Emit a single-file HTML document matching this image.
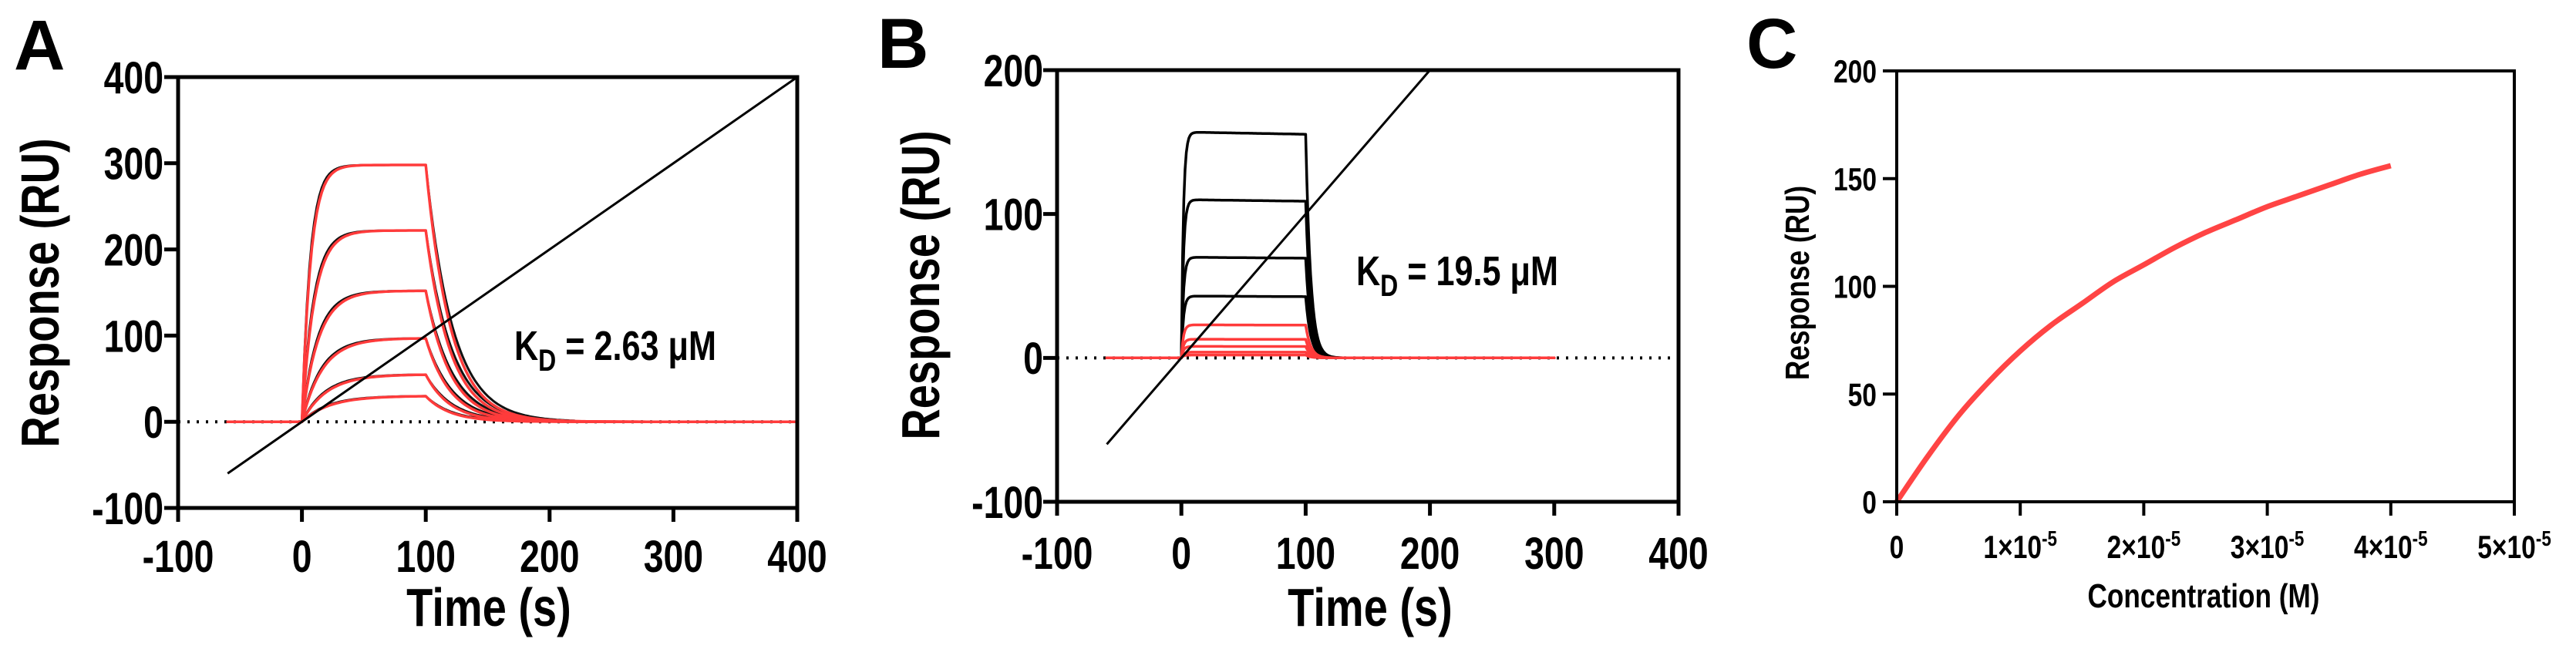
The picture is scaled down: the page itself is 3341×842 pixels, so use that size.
<!DOCTYPE html>
<html><head><meta charset="utf-8">
<style>
html,body{margin:0;padding:0;background:#fff;}
svg{display:block;}
text{font-family:"Liberation Sans",sans-serif;font-weight:bold;fill:#000;}
</style></head>
<body>
<svg id="fig" width="3341" height="842" viewBox="0 0 3341 842" xmlns="http://www.w3.org/2000/svg">
  <text x="18" y="90" font-size="92">A</text>
  <text x="1138" y="88" font-size="92">B</text>
  <text x="2265" y="88" font-size="92">C</text>
  <g id="pa"></g>
  <g id="pb"></g>
  <g id="pc"></g>
</svg>
<script>
// ---------- data ----------
const aXTicks = [-100, 0, 100, 200, 300, 400];
const aYTicks = [-100, 0, 100, 200, 300, 400];
const aPlateaus = [30, 55, 97, 152, 222, 298];
const aOnRates = [0.045, 0.05, 0.06, 0.075, 0.1, 0.14];
const aOffRates = [0.05, 0.05, 0.05, 0.05, 0.05, 0.05];
const bXTicks = [-100, 0, 100, 200, 300, 400];
const bYTicks = [-100, 0, 100, 200];
const bBlackPlateaus = [157, 110, 70, 43];
const bRedPlateaus = [23, 13, 8, 4, 2];
const cXTicks = [0, 1, 2, 3, 4, 5];
const cYTicks = [0, 50, 100, 150, 200];
const cConc = [0, 0.25, 0.5, 0.75, 1, 1.25, 1.5, 1.75, 2, 2.25, 2.5, 2.75, 3, 3.25, 3.5, 3.75, 4];
const cResp = [0, 21, 40, 56, 70, 82, 92, 102, 110, 118, 125, 131, 137, 142, 147, 152, 156];

const NS = "http://www.w3.org/2000/svg";
const SQ = 0.8;
function mk(parent, tag, attrs) {
  const e = document.createElementNS(NS, tag);
  for (const k in attrs) e.setAttribute(k, attrs[k]);
  parent.appendChild(e);
  return e;
}
function ntext(parent, x, y, fs, anchor) {
  const t = mk(parent, "text", {x: 0, y: 0, "font-size": fs, "text-anchor": anchor, transform: "translate(" + x + " " + y + ") scale(" + SQ + " 1)"});
  return t;
}
function scale(d0, d1, r0, r1) { return v => r0 + (v - d0) * (r1 - r0) / (d1 - d0); }

function frame(g, L, R, T, B, xt, yt, sx, sy, fs, xfmt, yLabX, xLabY, sw) {
  const f = mk(g, "rect", {x: L, y: T, width: R - L, height: B - T, fill: "none", stroke: "#000", "stroke-width": sw});
  
  
  xt.forEach(v => {
    const t = mk(g, "line", {x1: sx(v), x2: sx(v), y1: B, y2: B + 18, stroke: "#000", "stroke-width": sw});
    
    
    const l = ntext(g, sx(v), xLabY, fs, "middle");
    
    
    xfmt(l, v);
  });
  yt.forEach(v => {
    const t = mk(g, "line", {x1: L - 18, x2: L, y1: sy(v), y2: sy(v), stroke: "#000", "stroke-width": sw});
    
    
    const l = ntext(g, yLabX, sy(v) + fs * 0.36, fs, "end");
    
    
    l.textContent = v;
  });
}
function title(g, x, y, fs, txt, rot, name) {
  const tr = rot ? "translate(" + x + " " + y + ") rotate(-90) scale(" + SQ + " 1)" : "translate(" + x + " " + y + ") scale(" + SQ + " 1)";
  const t = mk(g, "text", {x: 0, y: 0, "font-size": fs, "text-anchor": "middle", transform: tr});
  
  
  t.textContent = txt;
  return t;
}
function kd(g, x, y, val, name) {
  const t = ntext(g, x, y, 54, "start");
  
  
  t.innerHTML = 'K<tspan font-size="40" dy="14">D</tspan><tspan dy="-14"> = ' + val + ' \u03BCM</tspan>';
}
function poly(g, pts, color, w, name) {
  const p = mk(g, "polyline", {points: pts.map(p => p[0].toFixed(1) + "," + p[1].toFixed(1)).join(" "), fill: "none", stroke: color, "stroke-width": w, "stroke-linejoin": "round", "stroke-linecap": "round"});
  
  
  return p;
}
function smooth(g, pts, color, w, name) {
  let d = "M" + pts[0][0].toFixed(1) + "," + pts[0][1].toFixed(1);
  for (let i = 0; i < pts.length - 1; i++) {
    const p0 = pts[Math.max(0, i - 1)], p1 = pts[i], p2 = pts[i + 1], p3 = pts[Math.min(pts.length - 1, i + 2)];
    const c1 = [p1[0] + (p2[0] - p0[0]) / 6, p1[1] + (p2[1] - p0[1]) / 6];
    const c2 = [p2[0] - (p3[0] - p1[0]) / 6, p2[1] - (p3[1] - p1[1]) / 6];
    d += " C" + c1.map(v => v.toFixed(1)).join(",") + " " + c2.map(v => v.toFixed(1)).join(",") + " " + p2.map(v => v.toFixed(1)).join(",");
  }
  const p = mk(g, "path", {d: d, fill: "none", stroke: color, "stroke-width": w, "stroke-linecap": "butt"});
  
  
}
function intFmt(l, v) { l.textContent = v; }

// ---------- Panel A ----------
(function () {
  const g = document.getElementById("pa");
  const L = 231, R = 1034, T = 100, B = 659;
  const sx = scale(-100, 400, L, R), sy = scale(-100, 400, B, T);
  const dz = mk(g, "line", {x1: L, x2: R, y1: sy(0), y2: sy(0), stroke: "#000", "stroke-width": 4, "stroke-dasharray": "3 9"});
  
  
  aPlateaus.forEach((rm, i) => {
    const ka = aOnRates[i], kdr = aOffRates[i];
    const pts = [], pts2 = [];
    for (let t = -60; t <= 400; t += 2) {
      let r;
      if (t < 0) r = 0;
      else if (t <= 100) r = rm * (1 - Math.exp(-ka * t));
      else r = rm * (1 - Math.exp(-ka * 100)) * Math.exp(-kdr * (t - 100));
      pts.push([sx(t), sy(r)]);
      if (t >= 0 && t <= 220) {
        let r2 = t <= 100 ? rm * (1 - Math.exp(-ka * 1.08 * t)) : rm * (1 - Math.exp(-ka * 100)) * Math.exp(-kdr * 0.92 * (t - 100));
        pts2.push([sx(t), sy(r2)]);
      }
    }
    poly(g, pts2, "#111", 3, "fit-black-" + i);
    poly(g, pts, "#ff3b3b", 3.5, "sensorgram-red-" + i);
  });
  const diag = mk(g, "line", {x1: sx(-60), y1: sy(-60), x2: sx(400), y2: sy(400), stroke: "#000", "stroke-width": 3});
  
  
  frame(g, L, R, T, B, aXTicks, aYTicks, sx, sy, 58, intFmt, 212, 742, 5);
  title(g, 634, 812, 70, "Time (s)", false, "x-axis-title");
  title(g, 76, 380, 70, "Response (RU)", true, "y-axis-title");
  kd(g, 667, 467, "2.63", "kd-annotation");
})();

// ---------- Panel B ----------
(function () {
  const g = document.getElementById("pb");
  const L = 1371, R = 2177, T = 91, B = 651;
  const sx = scale(-100, 400, L, R), sy = scale(-100, 200, B, T);
  const dz = mk(g, "line", {x1: L, x2: R, y1: sy(0), y2: sy(0), stroke: "#000", "stroke-width": 4, "stroke-dasharray": "3 9"});
  
  
  function curve(rm) {
    const pts = [];
    for (let t = -60; t <= 300; t += 1) {
      let r;
      if (t < 0) r = 0;
      else if (t <= 100) r = rm * (1 - Math.exp(-0.6 * t)) * (1 - 0.0001 * t);
      else r = rm * Math.exp(-0.25 * (t - 100));
      pts.push([sx(t), sy(r)]);
    }
    return pts;
  }
  bBlackPlateaus.forEach((rm, i) => poly(g, curve(rm), "#000", 3.5, "sensorgram-black-" + i));
  bRedPlateaus.forEach((rm, i) => poly(g, curve(rm), "#ff3b3b", 3.5, "sensorgram-red-" + i));
  const diag = mk(g, "line", {x1: sx(-60), y1: sy(-60), x2: sx(200), y2: sy(200), stroke: "#000", "stroke-width": 3});
  
  
  frame(g, L, R, T, B, bXTicks, bYTicks, sx, sy, 58, intFmt, 1353, 738, 5);
  title(g, 1777, 812, 70, "Time (s)", false, "x-axis-title");
  title(g, 1218, 370, 70, "Response (RU)", true, "y-axis-title");
  kd(g, 1759, 370, "19.5", "kd-annotation");
})();

// ---------- Panel C ----------
(function () {
  const g = document.getElementById("pc");
  const L = 2460, R = 3261, T = 92, B = 651;
  const sx = scale(0, 5, L, R), sy = scale(0, 200, B, T);
  const pts = cConc.map((c, i) => [sx(c), sy(cResp[i])]);
  smooth(g, pts, "#ff4444", 7, "binding-curve");
  frame(g, L, R, T, B, cXTicks, cYTicks, sx, sy, 42, (l, v) => {
    if (v === 0) { l.textContent = "0"; return; }
    l.innerHTML = v + '\u00D710<tspan font-size="28" dy="-16">-5</tspan>';
  }, 2434, 724, 4);
  title(g, 2858, 788, 44, "Concentration (M)", false, "x-axis-title");
  title(g, 2346, 367, 44, "Response (RU)", true, "y-axis-title");
})();
</script>
</body></html>
